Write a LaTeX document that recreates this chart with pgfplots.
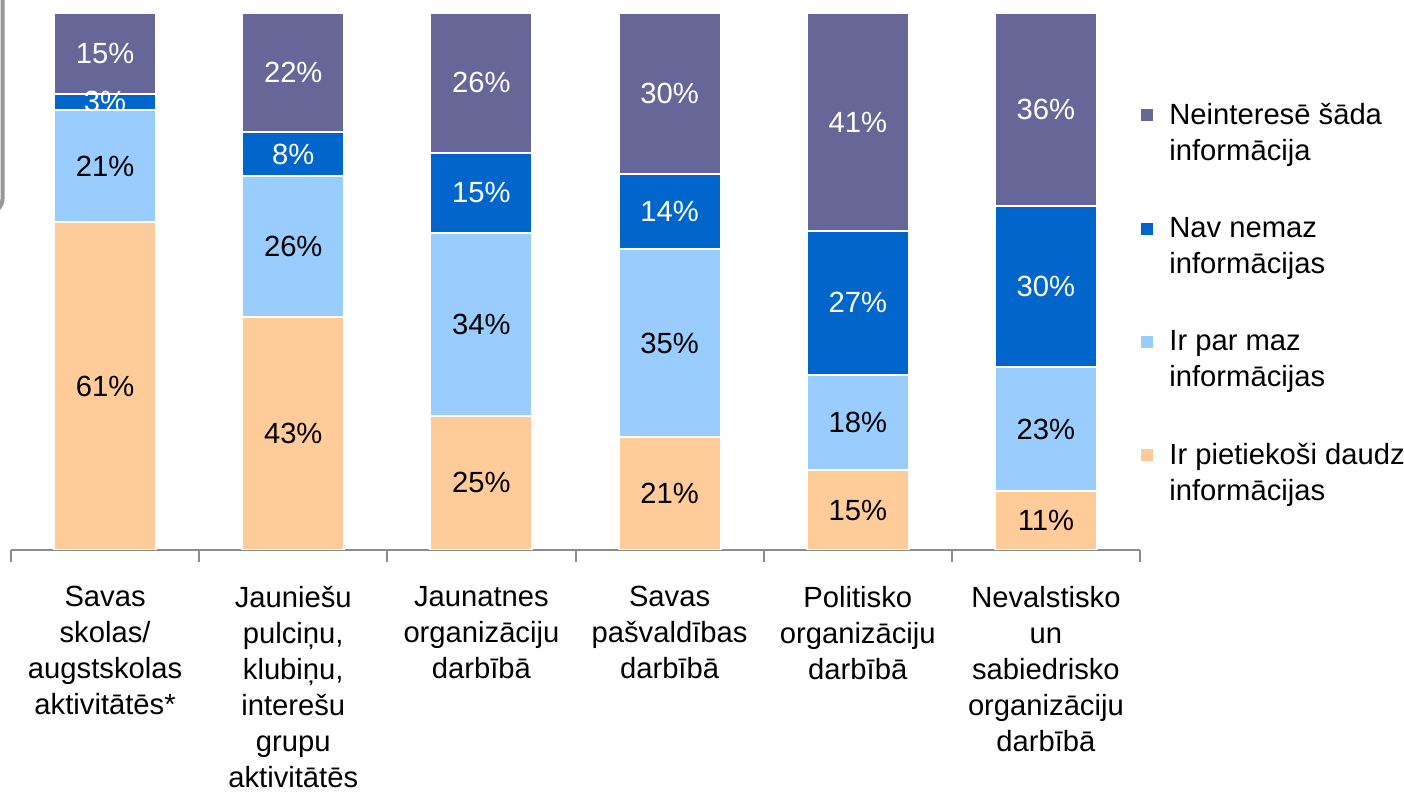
\documentclass[border=0pt]{standalone}
\usepackage{pgfplots}
\pgfplotsset{compat=1.18}
\usepackage{pgfplotstable}
\usepackage{fontspec}
\setmainfont{Liberation Sans}
\definecolor{cPur}{HTML}{666699}
\definecolor{cDark}{HTML}{0066CC}
\definecolor{cLight}{HTML}{99CCFF}
\definecolor{cOr}{HTML}{FFCC99}
\definecolor{cAx}{HTML}{8C8C8C}

% segment sizes (bars 2 and 5 normalised to 100)
\pgfplotstableread{
x pie maz nav nei
0 61 21 3 15
1 43.43 26.26 8.08 22.22
2 25 34 15 26
3 21 35 14 30
4 14.85 17.82 26.73 40.59
5 11 23 30 36
}\datatab

% label positions (segment midpoints) and printed values
\pgfplotstableread{
x y lab
0 30.5 61
0 71.5 21
1 21.72 43
1 56.57 26
2 12.5 25
2 42 34
3 10.5 21
3 38.5 35
4 7.43 15
4 23.76 18
5 5.5 11
5 22.5 23
}\blacklab
\pgfplotstableread{
x y lab
0 83.5 3
0 92.5 15
1 73.74 8
1 88.89 22
2 66.5 15
2 87 26
3 63 14
3 85 30
4 46.04 27
4 79.70 41
5 49 30
5 82 36
}\whitelab

\newcommand{\lfont}{\fontsize{14.6}{18}\selectfont}

\pgfplotsset{
  common/.style={
    at={(5.5pt,123.5pt)}, anchor=south west,
    scale only axis, width=564.5pt, height=268.5pt,
    xmin=-0.5, xmax=5.5, ymin=0, ymax=100,
  }
}

\begin{document}
\begin{tikzpicture}
\useasboundingbox (0,0) rectangle (702pt,398.5pt);
\draw[color=cAx!90, line width=2pt, rounded corners=8pt] (1.3pt,410pt) -- (1.3pt,291.5pt) -- (-20pt,291.5pt);

\begin{axis}[common,
  ybar stacked, bar width=51pt,
  axis x line*=bottom, axis y line=none,
  axis line style={draw=cAx, line width=1pt},
  xtick={0,...,5},
  major tick length=0pt,
  tick align=outside,
  extra x ticks={-0.5,0.5,...,5.5},
  extra x tick labels={},
  extra x tick style={major tick length=6pt, tick style={draw=cAx, line width=1pt}},
  xticklabels={
    {Savas\\skolas/\\augstskolas\\aktivitātēs*},
    {Jauniešu\\pulciņu,\\klubiņu,\\interešu\\grupu\\aktivitātēs},
    {Jaunatnes\\organizāciju\\darbībā},
    {Savas\\pašvaldības\\darbībā},
    {Politisko\\organizāciju\\darbībā},
    {Nevalstisko\\un\\sabiedrisko\\organizāciju\\darbībā}},
  xticklabel style={align=center, font=\lfont, yshift=-14.5pt},
  legend cell align=left,
  reverse legend,
  legend style={draw=none, fill=none, font=\lfont, cells={align=left},
    at={(axis description cs:1,0.82)}, anchor=north west,
    xshift=-3.5pt, yshift=7.5pt,
    row sep=22.9pt},
  legend image code/.code={\fill[#1] (0pt,5.5pt) rectangle (7pt,12.5pt);
    \path (7pt,9pt) -- (12pt,9pt);},
]
\addplot[fill=cOr, draw=white, line width=1pt] table[x=x,y=pie] {\datatab};
\addlegendentry{Ir pietiekoši daudz\\informācijas}
\addplot[fill=cLight, draw=white, line width=1pt] table[x=x,y=maz] {\datatab};
\addlegendentry{Ir par maz\\informācijas}
\addplot[fill=cDark, draw=white, line width=1pt] table[x=x,y=nav] {\datatab};
\addlegendentry{Nav nemaz\\informācijas}
\addplot[fill=cPur, draw=white, line width=1pt] table[x=x,y=nei] {\datatab};
\addlegendentry{Neinteresē šāda\\informācija}
\end{axis}

\begin{axis}[common, hide axis]
\addplot[only marks, mark=*, mark size=0pt, mark options={draw=none,fill=none},
  point meta=explicit symbolic,
  nodes near coords={\pgfplotspointmeta\%}, nodes near coords align=center,
  every node near coord/.append style={text=black, font=\lfont}]
  table[x=x,y=y,meta=lab] {\blacklab};
\addplot[only marks, mark=*, mark size=0pt, mark options={draw=none,fill=none},
  point meta=explicit symbolic,
  nodes near coords={\pgfplotspointmeta\%}, nodes near coords align=center,
  every node near coord/.append style={text=white, font=\lfont}]
  table[x=x,y=y,meta=lab] {\whitelab};
\end{axis}
\end{tikzpicture}
\end{document}
